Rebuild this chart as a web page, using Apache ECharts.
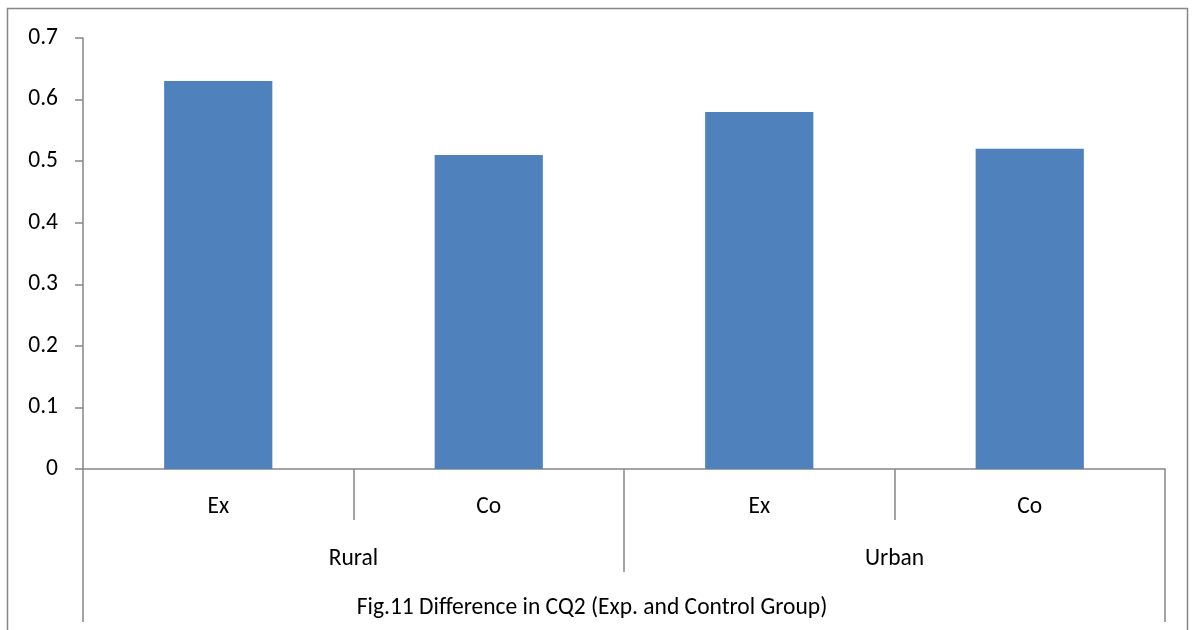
<!DOCTYPE html>
<html>
<head>
<meta charset="utf-8">
<script src="https://cdn.jsdelivr.net/npm/echarts@6/dist/echarts.min.js"></script>
<style>html,body{margin:0;padding:0;background:#fff}#c{width:1195px;height:630px}</style>
</head>
<body>
<div id="c"></div>
<script>
var categories = ['Ex', 'Co', 'Ex', 'Co'];
var groups = ['Rural', 'Urban'];
var values = [0.63, 0.51, 0.58, 0.52];
var yTicks = { min: 0, max: 0.7, interval: 0.1 };
var titleText = 'Fig.11 Difference in CQ2 (Exp. and Control Group)';

var FONT = 'Carlito, Calibri, Lato, "Open Sans", sans-serif';
var FS = 23.5;
var AX = '#868686';
var chart = echarts.init(document.getElementById('c'), null, { renderer: 'canvas' });
chart.setOption({
  animation: false,
  backgroundColor: '#fff',
  grid: { left: 83, right: 30, top: 38, bottom: 161, containLabel: false },
  graphic: [{
    type: 'rect', shape: { x: 7.5, y: 8.5, width: 1180, height: 640 },
    style: { fill: 'none', stroke: AX, lineWidth: 1.5 }, silent: true, z: -1
  }],
  xAxis: [{
    type: 'category', data: categories, position: 'bottom',
    axisLine: { show: true, lineStyle: { color: AX, width: 1.5 } },
    axisTick: { show: true, interval: 0, length: 51, lineStyle: { color: AX, width: 1.5 } },
    axisLabel: { interval: 0, margin: 26, color: '#000', fontSize: FS, fontFamily: FONT },
    splitLine: { show: false }
  }, {
    type: 'category', data: groups, position: 'bottom',
    axisLine: { show: false },
    axisTick: { show: true, interval: 0, length: 103, lineStyle: { color: AX, width: 1.5 } },
    axisLabel: { interval: 0, margin: 78, color: '#000', fontSize: FS, fontFamily: FONT },
    splitLine: { show: false }
  }, {
    type: 'category', data: [titleText], position: 'bottom',
    axisLine: { show: false },
    axisTick: { show: true, interval: 0, length: 153, lineStyle: { color: AX, width: 1.5 } },
    axisLabel: { interval: 0, margin: 127, color: '#000', fontSize: FS, fontFamily: FONT,
      padding: [0, 64, 0, 0] },
    splitLine: { show: false }
  }],
  yAxis: {
    type: 'value', min: yTicks.min, max: yTicks.max, interval: yTicks.interval,
    axisLine: { show: true, lineStyle: { color: AX, width: 1.5 } },
    axisTick: { show: true, length: 8, lineStyle: { color: AX, width: 1.5 } },
    axisLabel: { margin: 25, color: '#000', fontSize: FS, fontFamily: FONT,
      formatter: function (v) { return String(Math.round(v * 10) / 10); } },
    splitLine: { show: false }
  },
  series: [{
    type: 'bar', xAxisIndex: 0, data: values, barWidth: '40%',
    itemStyle: { color: '#4F81BD' }
  }]
});
</script>
</body>
</html>
